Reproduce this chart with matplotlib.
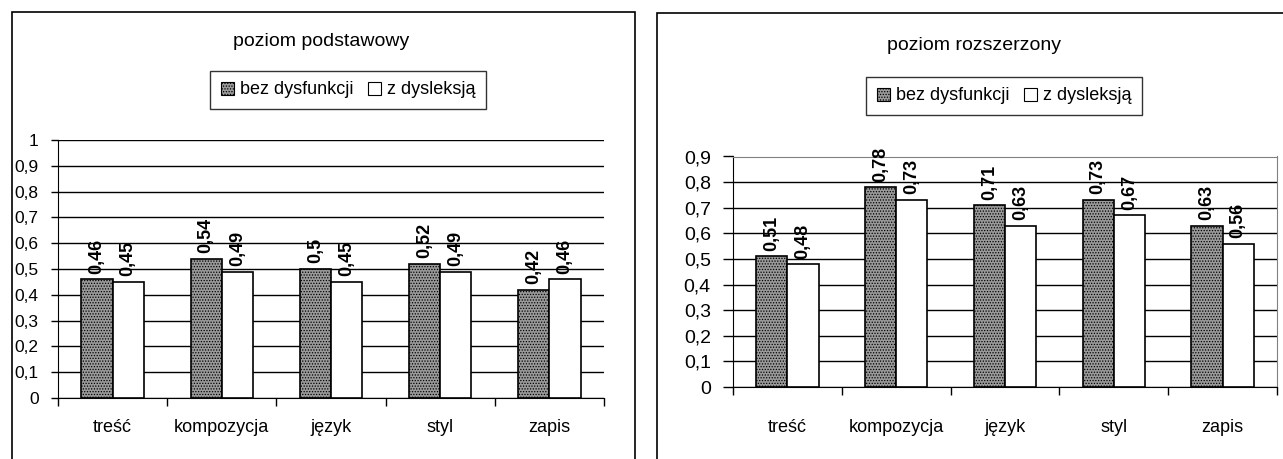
import matplotlib
matplotlib.use("Agg")
import matplotlib.pyplot as plt
from matplotlib.patches import Rectangle, Patch
import numpy as np

categories = ["treść", "kompozycja", "język", "styl", "zapis"]
series_names = ["bez dysfunkcji", "z dysleksją"]
basic_bez = [0.46, 0.54, 0.5, 0.52, 0.42]
basic_dys = [0.45, 0.49, 0.45, 0.49, 0.46]
ext_bez = [0.51, 0.78, 0.71, 0.73, 0.63]
ext_dys = [0.48, 0.73, 0.63, 0.67, 0.56]
titles = ["poziom podstawowy", "poziom rozszerzony"]

plt.rcParams['font.family'] = ['Liberation Sans', 'DejaVu Sans']
plt.rcParams['hatch.linewidth'] = 0.6

W, H = 1283, 459
fig = plt.figure(figsize=(W / 100, H / 100), dpi=100)

def fx(px):
    return px / W

def fy(py):
    return 1 - py / H

def fmt(v):
    s = f"{v:.2f}".rstrip('0').rstrip('.')
    return s.replace('.', ',')

def panel(rect, bez, dys, ymax, tick_fs, tick_len, ypad, xpad, title, title_xy, leg_xy, boxed):
    ax = fig.add_axes(rect)
    x = np.arange(len(categories))
    w = 0.286
    b1 = ax.bar(x - w / 2, bez, w, facecolor='#9a9a9a', edgecolor='black',
                hatch='......', linewidth=1.2, zorder=3)
    b2 = ax.bar(x + w / 2, dys, w, facecolor='white', edgecolor='black',
                linewidth=1.2, zorder=3)
    for bars, vals in ((b1, bez), (b2, dys)):
        for r, v in zip(bars, vals):
            ax.annotate(fmt(v), (r.get_x() + r.get_width() / 2, v),
                        xytext=(0, 4), textcoords='offset points',
                        rotation=90, ha='center', va='bottom',
                        fontsize=13, fontweight='bold', zorder=4)
    ax.set_xlim(-0.5, len(categories) - 0.5)
    ax.set_ylim(0, ymax)
    yt = np.round(np.arange(0, ymax + 0.001, 0.1), 1)
    ax.set_yticks(yt)
    ax.set_yticklabels([fmt(v) if v not in (0, 1) else str(int(v)) for v in yt],
                       fontsize=tick_fs)
    ax.yaxis.grid(True, color='black', linewidth=1, zorder=0)
    ax.set_axisbelow(True)
    ax.set_xticks(x)
    ax.set_xticklabels(categories, fontsize=13)
    ax.set_xticks(np.arange(-0.5, len(categories)), minor=True)
    ax.tick_params(axis='x', which='major', length=0, pad=xpad)
    ax.tick_params(axis='x', which='minor', length=6, width=1, direction='out')
    ax.tick_params(axis='y', length=tick_len, width=1, direction='out', pad=ypad)
    ax.spines['left'].set_color('black')
    ax.spines['bottom'].set_color('black')
    if boxed:
        ax.spines['top'].set_color('#808080')
        ax.spines['right'].set_color('#808080')
    else:
        ax.spines['top'].set_visible(False)
        ax.spines['right'].set_visible(False)
    fig.text(fx(title_xy[0]), fy(title_xy[1]), title, ha='center', va='center',
             fontsize=14)
    handles = [Patch(facecolor='#9a9a9a', edgecolor='black', hatch='......', linewidth=0.8),
               Patch(facecolor='white', edgecolor='black', linewidth=0.8)]
    leg = fig.legend(handles, series_names, loc='center',
                     bbox_to_anchor=(fx(leg_xy[0]), fy(leg_xy[1])),
                     ncol=2, fontsize=13, frameon=True, fancybox=False,
                     handlelength=0.75, handleheight=0.75, handletextpad=0.3,
                     columnspacing=0.8, borderpad=0.6, borderaxespad=0)
    leg.get_frame().set_edgecolor('black')
    leg.get_frame().set_linewidth(1)
    return ax

# left panel: axis x 58..604, y(1.0)=140, y(0)=398
panel([fx(58), fy(398), fx(604 - 58), (398 - 140) / H], basic_bez, basic_dys, 1.0,
      12.5, 5, 9, 15, titles[0], (321, 42), (348, 90), False)
# right panel: axis x 733..1277, y(0.9)=156.5, y(0)=387
panel([fx(733), fy(387), fx(1277 - 733), (387 - 156.5) / H], ext_bez, ext_dys, 0.9,
      14, 7, 9, 23, titles[1], (974, 45), (1004, 96), True)

# outer frames
fig.add_artist(Rectangle((fx(12), -0.1), fx(635 - 12), fy(12) + 0.1,
                         transform=fig.transFigure, fill=False,
                         edgecolor='black', linewidth=1.2))
fig.add_artist(Rectangle((fx(657), -0.1), 0.6, fy(13) + 0.1,
                         transform=fig.transFigure, fill=False,
                         edgecolor='black', linewidth=1.2))

fig.savefig("out.png", dpi=100)
